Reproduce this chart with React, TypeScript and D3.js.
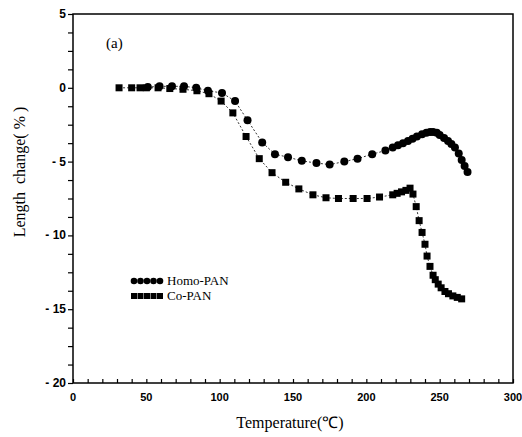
import React, { useRef, useEffect } from 'react';
import * as d3 from 'd3';

// Homo-PAN (circles)
const homoTemp = [51, 59, 67.5, 75.7, 84, 92, 101.6, 110.5, 119, 129, 137.7, 146.6, 156, 166, 175, 185, 194, 204, 213, 218, 221.6, 225, 228.4, 231.5, 234.5, 238, 241, 243.5, 245.5, 248, 250, 253, 255.7, 258, 260.4, 263, 265, 267, 269];
const homoChange = [0.05, 0.1, 0.1, 0.1, 0, -0.2, -0.35, -0.9, -2.2, -3.7, -4.5, -4.7, -4.95, -5.1, -5.2, -5.0, -4.8, -4.5, -4.25, -4.05, -3.9, -3.75, -3.6, -3.45, -3.3, -3.15, -3.05, -3.0, -3.0, -3.05, -3.2, -3.4, -3.6, -3.8, -4.05, -4.45, -4.9, -5.3, -5.7];

// Co-PAN (squares)
const coTemp = [31.4, 40, 45.7, 50, 58, 66, 75, 84.5, 92.7, 101, 109, 118, 127, 135.7, 145, 154, 163.6, 172.5, 181, 191, 200.5, 209, 218, 221, 224, 227, 229.8, 231.8, 234, 236, 238, 240, 241.4, 243.4, 245.5, 247, 249, 251, 253.6, 256, 259, 262, 265];
const coChange = [0, 0, 0, 0, 0, -0.05, -0.1, -0.2, -0.4, -0.9, -1.7, -3.3, -4.8, -5.75, -6.4, -6.85, -7.25, -7.45, -7.5, -7.5, -7.5, -7.4, -7.25, -7.15, -7.05, -6.95, -6.8, -7.2, -8.05, -9.0, -9.8, -10.6, -11.4, -12.1, -12.7, -13.0, -13.3, -13.55, -13.8, -13.95, -14.1, -14.2, -14.3];

const xTicks = [0, 50, 100, 150, 200, 250, 300];
const yTicks = [5, 0, -5, -10, -15, -20];
const legendNames = ['Homo-PAN', 'Co-PAN'];

const App = () => {
  const svgRef = useRef<SVGSVGElement>(null);

  useEffect(() => {
    const width = 522;
    const height = 437;
    const svg = d3.select(svgRef.current);
    svg.selectAll('*').remove();

    const x = d3.scaleLinear().domain([0, 300]).range([73, 513]);
    const y = d3.scaleLinear().domain([-20, 5]).range([383, 14]);

    // frame
    svg.append('rect')
      .attr('x', x(0)).attr('y', y(5))
      .attr('width', x(300) - x(0)).attr('height', y(-20) - y(5))
      .attr('fill', 'none').attr('stroke', '#000').attr('stroke-width', 1.5);

    // x axis ticks (inward)
    const xAxis = d3.axisBottom(x).tickValues(d3.range(0, 301, 10))
      .tickSize(-4).tickFormat(() => '');
    svg.append('g').attr('transform', `translate(0,${y(-20)})`).call(xAxis)
      .call(g => g.select('.domain').remove())
      .selectAll('line').attr('stroke-width', 1.2);
    svg.append('g').selectAll('text').data(xTicks).join('text')
      .attr('x', d => x(d)).attr('y', 401)
      .attr('text-anchor', 'middle')
      .style('font-family', 'Liberation Sans, Arial, sans-serif')
      .style('font-size', '11px').style('font-weight', 'bold')
      .text(d => d);

    // y axis ticks (outward)
    const yAxis = d3.axisLeft(y).tickValues(d3.range(-20, 5.01, 1.25))
      .tickSize(5).tickFormat(() => '');
    svg.append('g').attr('transform', `translate(${x(0)},0)`).call(yAxis)
      .call(g => g.select('.domain').remove())
      .selectAll('line').attr('stroke-width', 1.2);
    svg.append('g').selectAll('text').data(yTicks).join('text')
      .attr('x', 66).attr('y', d => y(d) + 4)
      .attr('text-anchor', 'end')
      .style('font-family', 'Liberation Sans, Arial, sans-serif')
      .style('font-size', '12px').style('font-weight', 'bold')
      .text(d => (d < 0 ? '- ' + Math.abs(d) : String(d)));

    // axis titles
    svg.append('text')
      .attr('x', 290).attr('y', 428).attr('text-anchor', 'middle')
      .style('font-family', 'Liberation Serif, Times New Roman, serif')
      .style('font-size', '16px')
      .text('Temperature(℃)');
    svg.append('text')
      .attr('transform', 'translate(25,172) rotate(-90)')
      .attr('text-anchor', 'middle')
      .style('font-family', 'Liberation Serif, Times New Roman, serif')
      .style('font-size', '16px')
      .style('white-space', 'pre')
      .text('Length  change( % )');
    svg.append('text')
      .attr('x', 106).attr('y', 48)
      .style('font-family', 'Liberation Serif, Times New Roman, serif')
      .style('font-size', '15px')
      .text('(a)');

    const homo = homoTemp.map((t, i) => [t, homoChange[i]] as [number, number]);
    const co = coTemp.map((t, i) => [t, coChange[i]] as [number, number]);
    const line = d3.line<[number, number]>().x(d => x(d[0])).y(d => y(d[1]));

    // connecting lines
    [homo, co].forEach(data => {
      svg.append('path').attr('d', line(data))
        .attr('fill', 'none').attr('stroke', '#000')
        .attr('stroke-width', 0.8).attr('stroke-dasharray', '2,2');
    });

    // markers
    svg.append('g').selectAll('rect').data(co).join('rect')
      .attr('x', d => x(d[0]) - 3.5).attr('y', d => y(d[1]) - 3.5)
      .attr('width', 7).attr('height', 7).attr('fill', '#000');
    svg.append('g').selectAll('circle').data(homo).join('circle')
      .attr('cx', d => x(d[0])).attr('cy', d => y(d[1]))
      .attr('r', 4).attr('fill', '#000');

    // legend
    const lx = d3.range(5).map(i => 134 + i * 6.5);
    const lg = svg.append('g');
    lg.selectAll('circle').data(lx).join('circle')
      .attr('cx', d => d).attr('cy', 281).attr('r', 3.3).attr('fill', '#000');
    lg.selectAll('rect').data(lx).join('rect')
      .attr('x', d => d - 3).attr('y', 293).attr('width', 6).attr('height', 6).attr('fill', '#000');
    lg.selectAll('text').data(legendNames).join('text')
      .attr('x', 167).attr('y', (d, i) => 285 + i * 15)
      .style('font-family', 'Liberation Serif, Times New Roman, serif')
      .style('font-size', '13px')
      .text(d => d);

    svg.attr('width', width).attr('height', height);
  }, []);

  return (
    <svg ref={svgRef} width={522} height={437}
      style={{ position: 'absolute', left: 0, top: 0, background: '#fff' }} />
  );
};

export default App;
